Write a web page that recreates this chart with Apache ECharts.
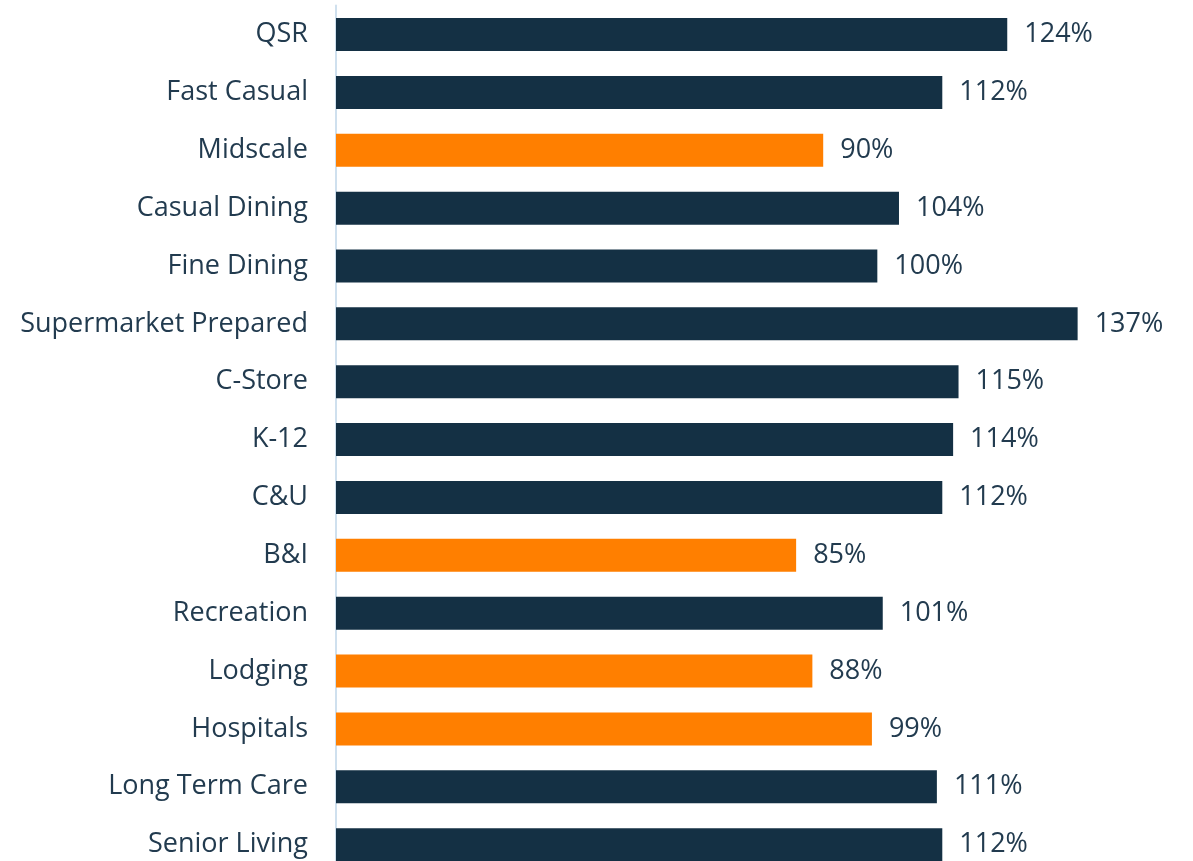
<!DOCTYPE html>
<html>
<head>
<meta charset="utf-8">
<script src="https://cdn.jsdelivr.net/npm/echarts@6/dist/echarts.min.js"></script>
<style>
  html, body { margin: 0; padding: 0; background: #fff; }
  #chart { width: 1193px; height: 861px; }
</style>
</head>
<body>
<div id="chart"></div>
<script>
const categories = [
  'QSR', 'Fast Casual', 'Midscale', 'Casual Dining', 'Fine Dining',
  'Supermarket Prepared', 'C-Store', 'K-12', 'C&U', 'B&I',
  'Recreation', 'Lodging', 'Hospitals', 'Long Term Care', 'Senior Living',
];
const values = [124, 112, 90, 104, 100, 137, 115, 114, 112, 85, 101, 88, 99, 111, 112];
// categories drawn in orange
const highlighted = ['Midscale', 'B&I', 'Lodging', 'Hospitals'];

const NAVY = '#143044';
const ORANGE = '#ff7f00';
const TEXT = '#223b4f';
const FONT = '"Open Sans", sans-serif';

const chart = echarts.init(document.getElementById('chart'));

chart.setOption({
  animation: false,
  grid: {
    left: 336, top: 5.6, width: 812, height: 868,
    outerBoundsMode: 'none',
  },
  xAxis: {
    type: 'value',
    min: 0,
    max: 150,
    show: false,
  },
  yAxis: {
    type: 'category',
    data: categories,
    inverse: true,
    axisLine: { show: true, lineStyle: { color: '#cfe0ee', width: 2 } },
    axisTick: { show: false },
    axisLabel: {
      color: TEXT,
      fontFamily: FONT,
      fontSize: 27,
      margin: 28,
    },
  },
  series: [
    {
      type: 'bar',
      barWidth: 33,
      data: values.map((v, i) => ({
        value: v,
        itemStyle: { color: highlighted.includes(categories[i]) ? ORANGE : NAVY },
      })),
      label: {
        show: true,
        position: 'right',
        distance: 17,
        color: TEXT,
        fontFamily: FONT,
        fontSize: 27,
        formatter: (p) => p.value + '%',
      },
    },
  ],
});
</script>
</body>
</html>
